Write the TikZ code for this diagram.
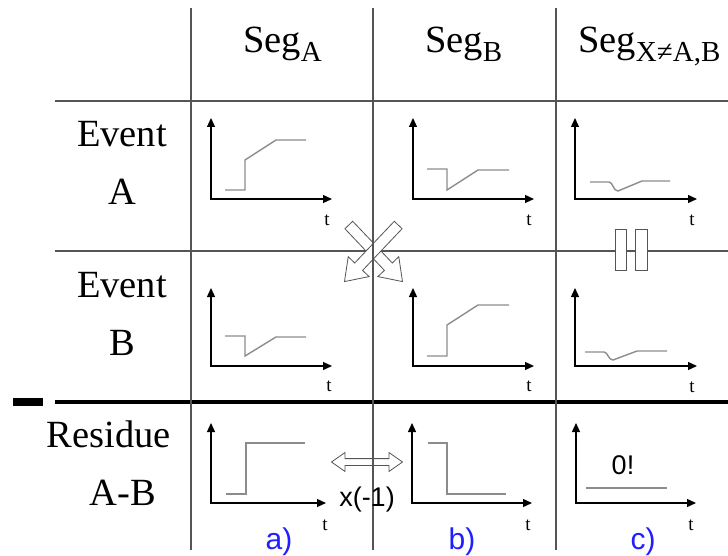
\documentclass[tikz,border=0pt]{standalone}
\usepackage{fontspec}
\setmainfont{Liberation Serif}
\newfontfamily\timesfont{Liberation Serif}
\newfontfamily\arialfont{Liberation Sans}
\usetikzlibrary{arrows.meta,shapes.arrows}

\definecolor{gridgray}{HTML}{555555}
\definecolor{siggray}{HTML}{8C8C8C}
\definecolor{labblue}{HTML}{2020FF}

\newcommand{\segsub}[1]{\raisebox{-9pt}{\fontsize{29}{29}\selectfont #1}}

\tikzset{
  gridline/.style={draw=gridgray, line width=1.4pt},
  axis/.style={black, line width=1.3pt, {Triangle[length=9pt,width=8pt]}-{Triangle[length=9pt,width=8pt]}},
  signal/.style={siggray, line width=1.4pt},
  bigtext/.style={font=\timesfont\fontsize{38.5}{38.5}\selectfont, inner sep=0pt, anchor=base},
  tlab/.style={font=\timesfont\fontsize{19}{19}\selectfont, inner sep=0pt},
  sublab/.style={font=\arialfont\fontsize{30}{30}\selectfont, text=labblue, inner sep=0pt, anchor=base},
  note/.style={font=\arialfont\fontsize{27}{27}\selectfont, inner sep=0pt, anchor=base},
  swaparrow/.style={single arrow, draw=gridgray, fill=white, line width=0.8pt,
    minimum height=78pt, inner sep=5pt, single arrow head extend=9pt, single arrow tip angle=70},
  flipbox/.style={draw=gridgray, fill=white, line width=0.8pt},
}

\begin{document}
\begin{tikzpicture}[x=1pt, y=-1pt]

\useasboundingbox (0,0) rectangle (728,556);

% Row separators
\draw[gridline] (55,101)--(728,101);
\draw[gridline] (55,251)--(728,251);
\draw[black, line width=4pt] (55,402)--(728,402);
\draw[black, line width=8pt] (13,401.5)--(43,401.5);

% Swap arrows between Seg_A and Seg_B
\node[swaparrow, rotate=-46.5] (swapA) at (373,250.5) {};
\node[swaparrow, rotate=-133.5] (swapB) at (374,250.5) {};

% Equal sign: no change in Seg_X
\draw[flipbox] (615,229) rectangle (626,270);
\draw[flipbox] (635,229) rectangle (647,270);

% Residue sign flip
\node[double arrow, draw=gridgray, fill=white, line width=0.8pt, minimum height=71pt,
  inner sep=3pt, double arrow head extend=6pt, double arrow tip angle=70] (flip) at (367,462) {};

% Column separators
\draw[gridline] (191,8)--(191,550);
\draw[gridline] (373,8)--(373,550);
\draw[gridline] (556,8)--(556,550);

% Column headers
\node[bigtext, anchor=base west] (segA) at (243,53) {Seg\segsub{A}};
\node[bigtext, anchor=base west] (segB) at (425,53) {Seg\segsub{B}};
\node[bigtext, anchor=base west] (segX) at (578,53) {Seg\segsub{X≠A,B}};

% Row headers
\node[bigtext] (evA) at (122,147) {Event};
\node[bigtext] (evAn) at (122,205) {A};
\node[bigtext] (evB) at (122,297) {Event};
\node[bigtext] (evBn) at (122,355) {B};
\node[bigtext] (res) at (109,447) {Residue};
\node[bigtext] (resn) at (123,505) {A-B};

% Axes
\foreach \ox/\oy/\xe/\ty in {211/199/332/118, 413/199/534/118, 575/199/697/118,
  211/366/332/288, 413/366/534/288, 575/366/697/288,
  211/503/326/423, 412/503/532/423, 576/503/696/423}
  \draw[axis] (\ox,\ty) |- (\xe,\oy);

% Time labels
\foreach \tx/\tyy [count=\i] in {327/220, 529/220, 692/220, 329/386, 529/386, 692/387,
  325/525, 528/525, 691/525}
  \node[tlab] (t\i) at (\tx,\tyy) {t};

% Event A
\draw[signal] (225,190)--(245,190)--(245,160)--(276,140)--(306,140);
\draw[signal] (427,169)--(447,169)--(447,190)--(478,170)--(509,170);
\draw[signal] (590,182)--(609,182) .. controls (613,182) and (613,191) .. (618,191)--(642,181)--(670,181);

% Event B
\draw[signal] (225,336)--(245,336)--(245,356)--(276,337)--(306,337);
\draw[signal] (427,356)--(447,356)--(447,325)--(478,305)--(509,305);
\draw[signal] (585,352)--(604,352) .. controls (608,352) and (608,360) .. (613,360)--(637,351)--(667,351);

% Residue
\draw[signal] (226,494)--(246,494)--(246,443)--(305,443);
\draw[signal] (428,443)--(447,443)--(447,494)--(506,494);
\draw[signal] (586,488)--(667,488);

\node[note] (times) at (367,506) {x(-1)};
\node[note] (zero) at (623,474) {0!};

% Case labels
\node[sublab] (caseA) at (279,549) {a)};
\node[sublab] (caseB) at (462,549) {b)};
\node[sublab] (caseC) at (643,549) {c)};

\end{tikzpicture}
\end{document}
